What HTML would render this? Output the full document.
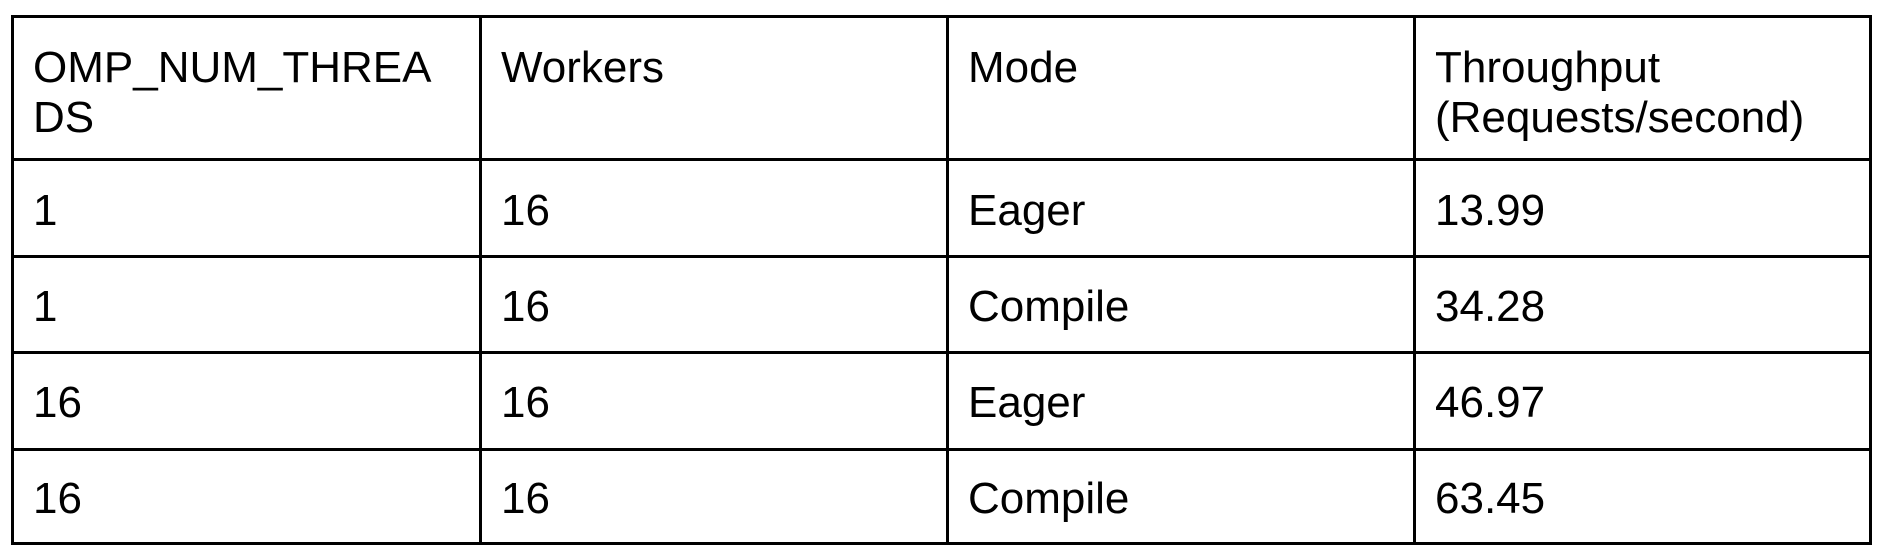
<!DOCTYPE html>
<html><head><meta charset="utf-8"><style>
html,body{margin:0;padding:0;background:#fff;}
body{width:1904px;height:560px;position:relative;overflow:hidden;font-family:"Liberation Sans",Arial,sans-serif;color:#000;}
.h{position:absolute;left:11px;width:1861px;height:3px;background:#000;}
.v{position:absolute;top:15px;height:530px;width:3px;background:#000;}
.t{position:absolute;font-size:44px;line-height:50px;white-space:nowrap;}
</style></head><body>
<div class="h" style="top:15px"></div>
<div class="h" style="top:158px"></div>
<div class="h" style="top:255px"></div>
<div class="h" style="top:351px"></div>
<div class="h" style="top:448px"></div>
<div class="h" style="top:542px"></div>
<div class="v" style="left:11px"></div>
<div class="v" style="left:479px"></div>
<div class="v" style="left:946px"></div>
<div class="v" style="left:1413px"></div>
<div class="v" style="left:1869px"></div>

<div class="t" style="left:33px;top:43px">OMP_NUM_THREA<br>DS</div>
<div class="t" style="left:501px;top:43px">Workers</div>
<div class="t" style="left:968px;top:43px">Mode</div>
<div class="t" style="left:1435px;top:43px">Throughput<br>(Requests/second)</div>

<div class="t" style="left:33px;top:186px">1</div>
<div class="t" style="left:501px;top:186px">16</div>
<div class="t" style="left:968px;top:186px">Eager</div>
<div class="t" style="left:1435px;top:186px">13.99</div>

<div class="t" style="left:33px;top:282px">1</div>
<div class="t" style="left:501px;top:282px">16</div>
<div class="t" style="left:968px;top:282px">Compile</div>
<div class="t" style="left:1435px;top:282px">34.28</div>

<div class="t" style="left:33px;top:378px">16</div>
<div class="t" style="left:501px;top:378px">16</div>
<div class="t" style="left:968px;top:378px">Eager</div>
<div class="t" style="left:1435px;top:378px">46.97</div>

<div class="t" style="left:33px;top:474px">16</div>
<div class="t" style="left:501px;top:474px">16</div>
<div class="t" style="left:968px;top:474px">Compile</div>
<div class="t" style="left:1435px;top:474px">63.45</div>
</body></html>
